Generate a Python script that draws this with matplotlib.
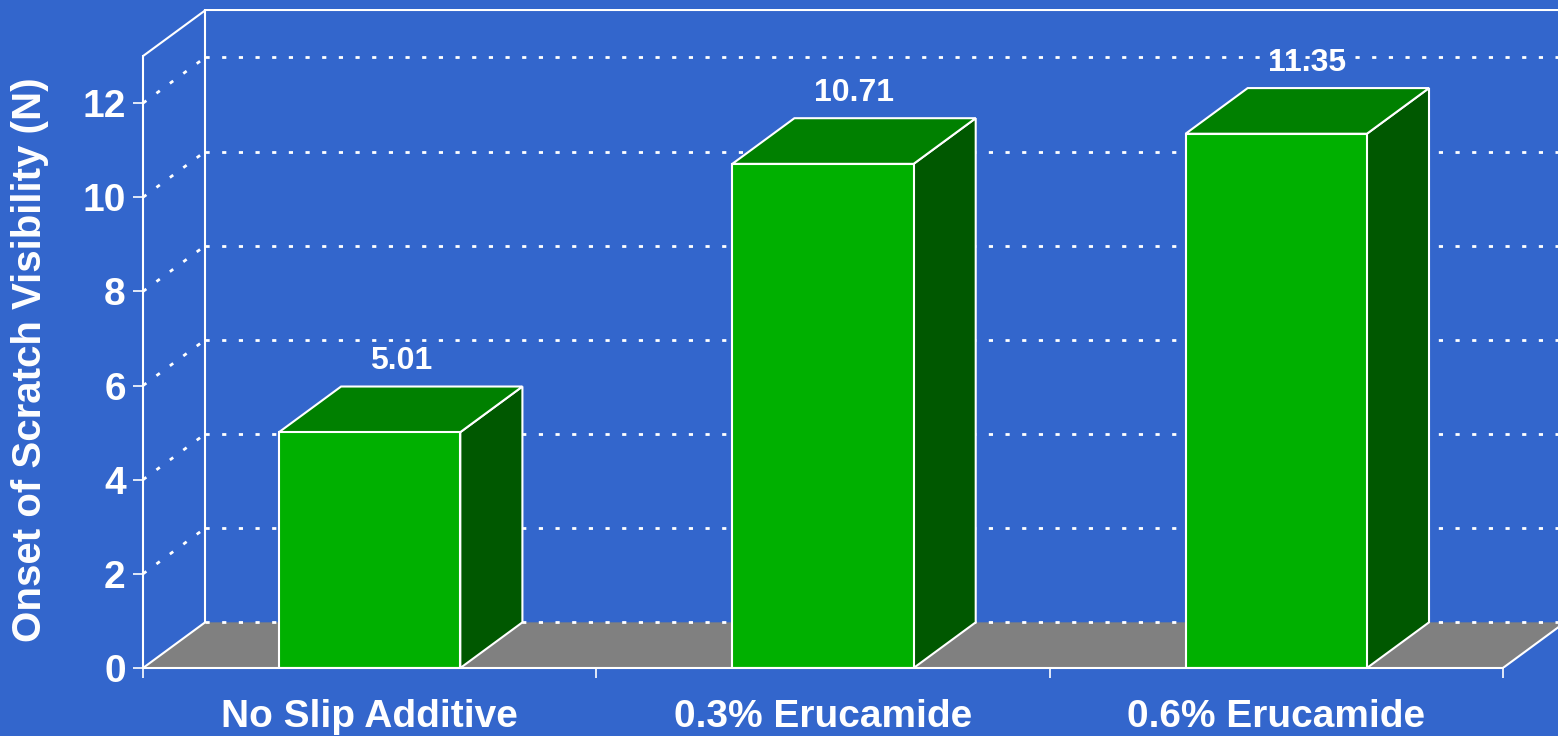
import numpy as np
import matplotlib.pyplot as plt
from matplotlib.patches import Polygon

categories = ["No Slip Additive", "0.3% Erucamide", "0.6% Erucamide"]
values = [5.01, 10.71, 11.35]
value_labels = ["5.01", "10.71", "11.35"]
yticks = [0, 2, 4, 6, 8, 10, 12]

bg = "#3366cc"
front_col = "#00b000"
top_col = "#008000"
side_col = "#005800"
floor_col = "#808080"

plt.rcParams['font.family'] = ['Liberation Sans', 'DejaVu Sans']
plt.rcParams['font.weight'] = 'bold'

# depth offset of the pseudo-3d box (x in category units, y in value units)
dx, dy = 0.137, 0.97
ymax = 13
bw = 0.4

fig = plt.figure(figsize=(15.58, 7.36), dpi=100, facecolor=bg)
ax = fig.add_axes([143/1558, 68/736, 1422/1558, 659/736])
ax.set_facecolor(bg)
ax.set_xlim(0, 3 + dx)
ax.set_ylim(0, ymax + 1)

n = len(categories)
dots = (0, (1.5, 4.5))

# floor
ax.add_patch(Polygon([(0, 0), (n, 0), (n + dx, dy), (dx, dy)], closed=True,
                     facecolor=floor_col, edgecolor='none', zorder=1))
ax.plot([0, dx], [0, dy], color='white', lw=1.5, zorder=2)
ax.plot([n, n + dx], [0, dy], color='white', lw=1.5, zorder=2)

# back wall and left side
ax.plot([dx, dx], [dy, ymax + dy], color='white', lw=1.5, zorder=2)
ax.plot([dx, n + dx + 0.1], [ymax + dy, ymax + dy], color='white', lw=1.5, zorder=2)
ax.plot([0, dx], [ymax, ymax + dy], color='white', lw=1.5, zorder=2)

# gridlines on back wall and side wall
for v in range(0, ymax, 2):
    ax.plot([dx, n + dx + 0.1], [v + dy, v + dy], color='white', lw=2, ls=dots, zorder=2)
    if v > 0:
        ax.plot([0, dx], [v, v + dy], color='white', lw=2, ls=dots, zorder=2)

# bars
for i, v in enumerate(values):
    x0 = i + 0.5 - bw / 2
    x1 = i + 0.5 + bw / 2
    front = [(x0, 0), (x1, 0), (x1, v), (x0, v)]
    top = [(x0, v), (x1, v), (x1 + dx, v + dy), (x0 + dx, v + dy)]
    side = [(x1, 0), (x1 + dx, dy), (x1 + dx, v + dy), (x1, v)]
    for pts, c in [(side, side_col), (top, top_col), (front, front_col)]:
        ax.add_patch(Polygon(pts, closed=True, facecolor=c, edgecolor='white',
                             lw=1.5, zorder=3))
    ax.text(i + 0.5 + dx / 2, v + dy + 0.22, value_labels[i], color='white',
            fontsize=23, fontweight='bold', ha='center', va='bottom', zorder=4)

# axes lines
for s in ['top', 'right']:
    ax.spines[s].set_visible(False)
ax.spines['left'].set_bounds(0, ymax)
ax.spines['bottom'].set_bounds(0, n)
for s in ['left', 'bottom']:
    ax.spines[s].set_color('white')
    ax.spines[s].set_linewidth(1.5)
    ax.spines[s].set_zorder(5)

ax.set_yticks(yticks)
ax.set_yticklabels([str(t) for t in yticks])
ax.tick_params(axis='y', colors='white', length=7, width=1.2, pad=5.5, labelsize=28)
ax.set_xticks(range(n + 1))
ax.set_xticklabels([])
ax.tick_params(axis='x', which='major', colors='white', length=7, width=1.2)
ax.set_xticks(np.arange(n) + 0.5, minor=True)
ax.set_xticklabels(categories, minor=True)
ax.tick_params(axis='x', which='minor', length=0, pad=22, labelsize=28, labelcolor='white')
for lab in ax.get_xticklabels(minor=True) + ax.get_yticklabels():
    lab.set_fontweight('bold')

fig.text(30/1558, 1 - 360/736, "Onset of Scratch Visibility (N)", rotation=90,
         ha='center', va='center', color='white', fontsize=29, fontweight='bold')

fig.savefig("out.png", dpi=100, facecolor=bg)
